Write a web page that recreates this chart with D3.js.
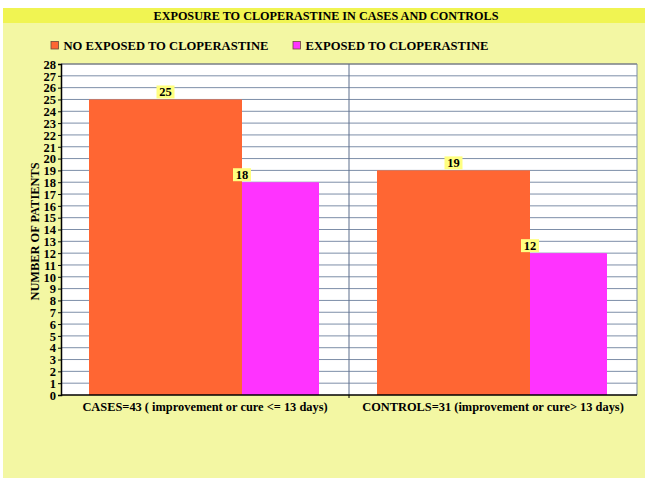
<!DOCTYPE html>
<html lang="en">
<head>
<meta charset="UTF-8">
<title>Exposure to cloperastine</title>
<script src="https://d3js.org/d3.v7.min.js"></script>
<style>
    body { margin: 0; background: #fff; }
    svg { display: block; }
</style>
</head>
<body>
<script>
const groups = ["CASES=43 ( improvement or cure <= 13 days)", "CONTROLS=31 (improvement or cure> 13 days)"];
const seriesNames = ["NO EXPOSED TO CLOPERASTINE", "EXPOSED TO CLOPERASTINE"];
const seriesColors = ["#FF6633", "#FF33FF"];
const noExposed = [25, 19];
const exposed = [18, 12];
const yTicks = d3.range(0, 29);

const W = 650, H = 488;
const plot = { left: 61, right: 637, top: 64, bottom: 395 };
const FONT = "'Liberation Serif', 'Times New Roman', serif";

const svg = d3.select("body").append("svg").attr("width", W).attr("height", H);

function txt(sel) {
    return sel.style("font-family", FONT).style("font-weight", "bold").attr("fill", "#000");
}

// backgrounds
svg.append("rect").attr("x", 3).attr("y", 8).attr("width", 642).attr("height", 470).attr("fill", "#F3F7A3");
svg.append("rect").attr("x", 3).attr("y", 8).attr("width", 642).attr("height", 15).attr("fill", "#F0F452");
txt(svg.append("text")).attr("x", 326).attr("y", 20).attr("text-anchor", "middle")
    .style("font-size", "12.2px").text("EXPOSURE TO CLOPERASTINE IN CASES AND CONTROLS");

// legend
const legendX = [51, 293];
seriesNames.forEach((name, i) => {
    svg.append("rect").attr("x", legendX[i]).attr("y", 41.5).attr("width", 7.5).attr("height", 7.5)
        .attr("fill", seriesColors[i]).attr("stroke", "#6a4a3a").attr("stroke-width", 0.8);
    txt(svg.append("text")).attr("x", legendX[i] + 12.5).attr("y", 49.5)
        .style("font-size", "12.6px").text(name);
});

const x0 = d3.scaleBand().domain(groups).range([plot.left, plot.right]);
const y = d3.scaleLinear().domain([0, 28]).range([plot.bottom, plot.top]);

svg.append("rect").attr("x", plot.left).attr("y", plot.top)
    .attr("width", plot.right - plot.left).attr("height", plot.bottom - plot.top).attr("fill", "#fff");

// gridlines
svg.append("g").selectAll("line").data(yTicks.slice(1)).join("line")
    .attr("x1", plot.left).attr("x2", plot.right)
    .attr("y1", d => y(d)).attr("y2", d => y(d))
    .attr("stroke", "#7D8EA8").attr("stroke-width", 1);
svg.append("line").attr("x1", plot.left).attr("x2", plot.right)
    .attr("y1", plot.top).attr("y2", plot.top).attr("stroke", "#777").attr("stroke-width", 1.2);

// group separators
svg.append("g").selectAll("line").data(groups.slice(1)).join("line")
    .attr("x1", d => x0(d)).attr("x2", d => x0(d))
    .attr("y1", plot.top).attr("y2", plot.bottom)
    .attr("stroke", "#5C6E8C");
svg.append("line").attr("x1", plot.right).attr("x2", plot.right)
    .attr("y1", plot.top).attr("y2", plot.bottom).attr("stroke", "#7D8EA8");

// bars
const seriesData = [noExposed, exposed];
const barStart = [28, 28 + 153];
const barWidths = [153, 77];
seriesData.forEach((vals, s) => {
    svg.append("g").selectAll("rect").data(vals).join("rect")
        .attr("x", (d, i) => x0(groups[i]) + barStart[s])
        .attr("y", d => y(d))
        .attr("width", barWidths[s])
        .attr("height", d => y(0) - y(d))
        .attr("fill", seriesColors[s]);
});

// value labels
seriesData.forEach((vals, s) => {
    const g = svg.append("g").selectAll("g").data(vals).join("g")
        .attr("transform", (d, i) => {
            const cx = s === 0 ? x0(groups[i]) + barStart[0] + barWidths[0] / 2 : x0(groups[i]) + barStart[1];
            return `translate(${cx},${y(d)})`;
        });
    g.append("rect").attr("x", -9).attr("y", -14).attr("width", 18).attr("height", 13).attr("fill", "#FFFF80");
    txt(g.append("text")).attr("text-anchor", "middle").attr("y", -3.5).style("font-size", "12.5px").text(d => d);
});

// y axis
const yAxis = svg.append("g").attr("transform", `translate(${plot.left},0)`)
    .call(d3.axisLeft(y).tickValues(yTicks).tickSize(3).tickPadding(2).tickFormat(d3.format("d")));
yAxis.attr("font-family", null).attr("font-size", null);
yAxis.select(".domain").attr("stroke", "#000").attr("stroke-width", 1.5);
yAxis.selectAll(".tick line").attr("stroke", "#000");
txt(yAxis.selectAll(".tick text")).style("font-size", "12.5px").attr("dy", "0.34em");

// x axis line
svg.append("line").attr("x1", plot.left).attr("x2", plot.right)
    .attr("y1", plot.bottom).attr("y2", plot.bottom).attr("stroke", "#000").attr("stroke-width", 1.5);
svg.append("g").selectAll("line").data(groups.slice(1)).join("line")
    .attr("x1", d => x0(d)).attr("x2", d => x0(d))
    .attr("y1", plot.bottom).attr("y2", plot.bottom + 3).attr("stroke", "#000");

// x labels
txt(svg.append("g").selectAll("text").data(groups).join("text"))
    .attr("x", d => x0(d) + x0.bandwidth() / 2)
    .attr("y", 411).attr("text-anchor", "middle")
    .style("font-size", "12.4px").text(d => d);

// y label
txt(svg.append("text")).attr("transform", `translate(39,${(plot.top + plot.bottom) / 2 + 2}) rotate(-90)`)
    .attr("text-anchor", "middle").style("font-size", "12.4px").text("NUMBER OF PATIENTS");
</script>
</body>
</html>
